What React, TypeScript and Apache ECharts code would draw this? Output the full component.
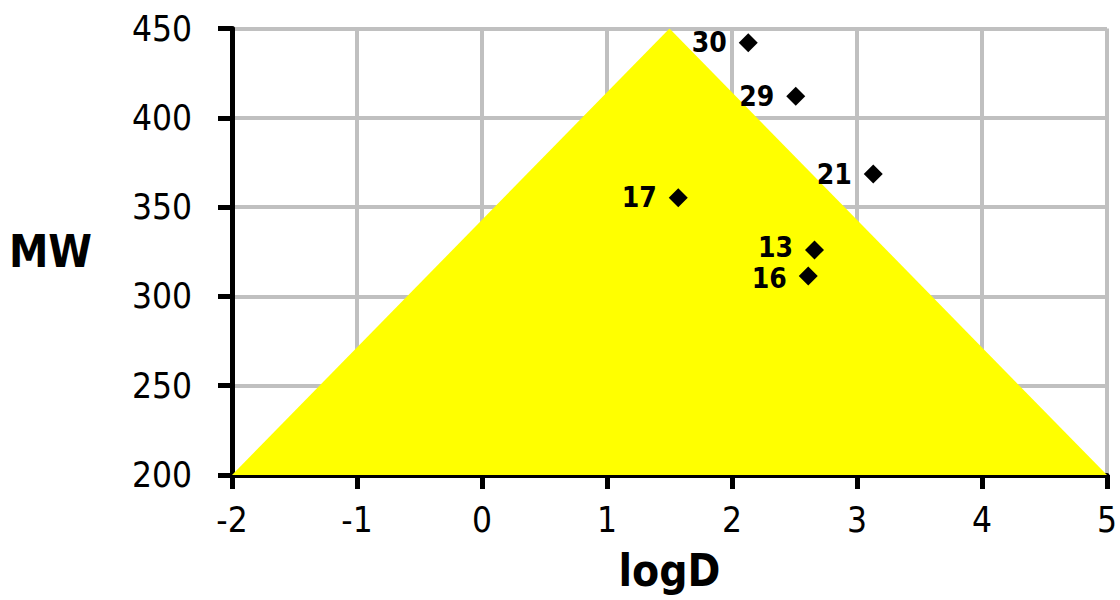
import React, { useEffect, useRef } from "react";
import * as echarts from "echarts";

const triangleX = [-2, 1.5, 5];
const triangleY = [200, 450, 200];
const pointLabels = ["30", "29", "21", "17", "13", "16"];
const pointX = [2.13, 2.51, 3.13, 1.57, 2.66, 2.61];
const pointY = [442, 412, 368.5, 355.3, 326, 311.4];
const labelNudgeY = [0, 0, 0, 0, -2, 2];
const xTicks = { min: -2, max: 5, interval: 1 };
const yTicks = { min: 200, max: 450, interval: 50 };

const FONT = "'DejaVu Sans Condensed', 'DejaVu Sans', sans-serif";

export default function App() {
  const ref = useRef<HTMLDivElement>(null);
  useEffect(() => {
    document.body.style.margin = "0";
    if (!ref.current) return;
    const chart = echarts.init(ref.current, null, { renderer: "svg" });
    chart.setOption({
      animation: false,
      backgroundColor: "#ffffff",
      grid: { left: 232, right: 12, top: 28.5, bottom: 125, containLabel: false },
      xAxis: {
        type: "value",
        min: xTicks.min,
        max: xTicks.max,
        interval: xTicks.interval,
        name: "logD",
        nameLocation: "middle",
        nameGap: 73,
        nameTextStyle: { fontFamily: FONT, fontSize: 44, fontWeight: "bold", color: "#000" },
        axisLine: { show: true, onZero: false, lineStyle: { color: "#000", width: 5 } },
        axisTick: { show: true, length: 14, lineStyle: { color: "#000", width: 5 } },
        axisLabel: { fontFamily: FONT, fontSize: 35, color: "#000", margin: 27 },
        splitLine: { show: true, lineStyle: { color: "#c0c0c0", width: 4 } },
      },
      yAxis: {
        type: "value",
        min: yTicks.min,
        max: yTicks.max,
        interval: yTicks.interval,
        name: "MW",
        nameLocation: "middle",
        nameRotate: 0,
        nameGap: 140,
        nameTextStyle: { fontFamily: FONT, fontSize: 44, fontWeight: "bold", color: "#000" },
        axisLine: { show: true, onZero: false, lineStyle: { color: "#000", width: 5 } },
        axisTick: { show: true, length: 14, lineStyle: { color: "#000", width: 5 } },
        axisLabel: { fontFamily: FONT, fontSize: 35, color: "#000", margin: 40 },
        splitLine: { show: true, lineStyle: { color: "#c0c0c0", width: 4 } },
      },
      series: [
        {
          type: "line",
          data: triangleX.map((x, i) => [x, triangleY[i]]),
          showSymbol: false,
          symbol: "none",
          lineStyle: { width: 0 },
          areaStyle: { color: "#ffff00", opacity: 1, origin: "start" },
          z: 1,
          silent: true,
        },
        {
          type: "scatter",
          symbol: "diamond",
          symbolSize: 19,
          itemStyle: { color: "#000", opacity: 1 },
          data: pointX.map((x, i) => ({
            value: [x, pointY[i]],
            name: pointLabels[i],
            label: { offset: [0, labelNudgeY[i]] },
          })),
          label: {
            show: true,
            position: "left",
            distance: 12,
            formatter: (p: any) => p.name,
            fontFamily: FONT,
            fontSize: 28,
            lineHeight: 22,
            fontWeight: "bold",
            color: "#000",
          },
          z: 5,
        },
      ],
    });
    return () => chart.dispose();
  }, []);
  return <div ref={ref} style={{ width: 1120, height: 600 }} />;
}
